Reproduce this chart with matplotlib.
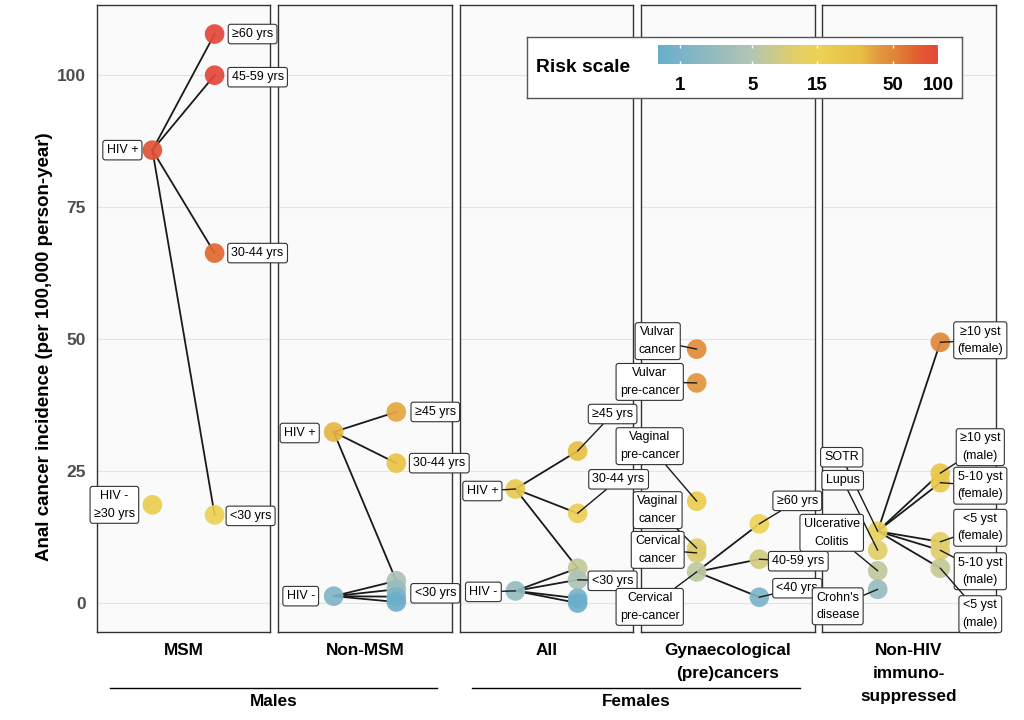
import numpy as np
import matplotlib.pyplot as plt
from matplotlib.colors import LinearSegmentedColormap

plt.rcParams['font.family'] = ['Liberation Sans', 'DejaVu Sans']

# ---- data (incidence per 100,000 person-years) ----
msm_names = ["HIV +", "HIV -\n≥30 yrs", "≥60 yrs", "45-59 yrs", "30-44 yrs", "<30 yrs"]
msm_side = [0, 0, 1, 1, 1, 1]
msm_vals = [85.8, 18.6, 107.8, 100.0, 66.3, 16.7]
msm_links = [(0, 2), (0, 3), (0, 4), (0, 5)]

nonmsm_names = ["HIV +", "≥45 yrs", "30-44 yrs", "HIV -", "", "<30 yrs", "", ""]
nonmsm_side = [0, 1, 1, 0, 1, 1, 1, 1]
nonmsm_vals = [32.4, 36.2, 26.5, 1.3, 4.2, 2.6, 1.2, 0.2]
nonmsm_links = [(0, 1), (0, 2), (0, 4), (3, 4), (3, 5), (3, 6), (3, 7)]

all_names = ["HIV +", "≥45 yrs", "30-44 yrs", "", "HIV -", "<30 yrs", "", ""]
all_side = [0, 1, 1, 1, 0, 1, 1, 1]
all_vals = [21.6, 28.8, 17.0, 6.6, 2.3, 4.4, 0.9, 0.0]
all_links = [(0, 1), (0, 2), (0, 3), (4, 3), (4, 5), (4, 6), (4, 7)]

gyn_names = ["Vulvar\ncancer", "Vulvar\npre-cancer", "Vaginal\npre-cancer", "Vaginal\ncancer",
             "Cervical\ncancer", "Cervical\npre-cancer", "≥60 yrs", "40-59 yrs", "<40 yrs"]
gyn_side = [0, 0, 0, 0, 0, 0, 1, 1, 1]
gyn_vals = [48.1, 41.7, 19.3, 10.4, 9.5, 5.9, 15.0, 8.3, 1.1]
gyn_links = [(5, 6), (5, 7), (5, 8)]

nh_names = ["SOTR", "Lupus", "Ulcerative\nColitis", "Crohn's\ndisease", "≥10 yst\n(female)",
            "≥10 yst\n(male)", "5-10 yst\n(female)", "<5 yst\n(female)", "5-10 yst\n(male)", "<5 yst\n(male)"]
nh_side = [0, 0, 0, 0, 1, 1, 1, 1, 1, 1]
nh_vals = [13.6, 10.0, 6.1, 2.6, 49.4, 24.6, 22.8, 11.6, 10.0, 6.6]
nh_links = [(0, 4), (0, 5), (0, 6), (0, 7), (0, 8), (0, 9)]

panel_titles = ["MSM", "Non-MSM", "All", "Gynaecological\n(pre)cancers", "Non-HIV\nimmuno-\nsuppressed"]

scale_ticks = [1, 5, 15, 50, 100]
scale_vals = [0.43, 1, 5, 10, 15, 30, 40, 50, 70, 100]
scale_cols = ['#6AAFCB', '#7AB3CA', '#B3C6B2', '#E0CE6A', '#ECD356', '#E9BF44',
              '#E39A3E', '#E08838', '#E2632F', '#E4473A']

# label offsets (pixels from the point)
msm_off = [(-30, 0), (-38, 0), (38, 0), (43, -2), (43, 0), (36, -1)]
nonmsm_off = [(-34, -1), (39, 0), (43, 0), (-33, 0), None, (39, -4), None, None]
all_off = [(-33, -2), (35, 37), (41, 34), None, (-32, -1), (35, -1), None, None]
gyn_off = [(-39, 8), (-47, 1), (-47, 55), (-39, 38), (-39, 3), (-47, -35), (38, 23), (39, -2), (38, 9)]
nh_off = [(-36, 74), (-35, 70), (-46, 38), (-40, -17), (40, 2), (40, 26), (40, -3), (40, 14), (40, -21), (40, -46)]

panels = [
    (msm_names, msm_side, msm_vals, msm_links, msm_off, False),
    (nonmsm_names, nonmsm_side, nonmsm_vals, nonmsm_links, nonmsm_off, False),
    (all_names, all_side, all_vals, all_links, all_off, True),
    (gyn_names, gyn_side, gyn_vals, gyn_links, gyn_off, True),
    (nh_names, nh_side, nh_vals, nh_links, nh_off, True),
]

# ---- colour scale: log10(x + 1) ----
lo, hi = np.log10(1.43), np.log10(101)


def tr(v):
    return np.clip((np.log10(np.asarray(v, dtype=float) + 1) - lo) / (hi - lo), 0, 1)


pos = list(tr(scale_vals))
pos[0], pos[-1] = 0.0, 1.0
cmap = LinearSegmentedColormap.from_list("risk", list(zip(pos, scale_cols)))

W, H = 1024, 720
fig = plt.figure(figsize=(W / 100, H / 100), dpi=100)


def fx(px):
    return px / W


def fy(py):
    return 1 - py / H


panel_px = [(97, 270), (278, 452), (460, 633), (641, 815), (822, 996)]
top, bot = 5, 632
ylim = (-5.49, 113.3)
xlim = (-0.89, 1.89)
box = dict(boxstyle="round,pad=0.3,rounding_size=0.2", fc="white", ec="#333333", lw=0.8)

# backgrounds first, so labels of one panel can overlap its neighbours
for k, (l, r) in enumerate(panel_px):
    bg = fig.add_axes([fx(l), fy(bot), fx(r - l), (bot - top) / H], zorder=0)
    bg.set_xlim(*xlim)
    bg.set_ylim(*ylim)
    bg.set_facecolor('#FAFAFA')
    bg.set_xticks([])
    bg.set_yticks([0, 25, 50, 75, 100])
    bg.grid(axis='y', color='#E4E4E4', lw=0.8)
    bg.tick_params(length=0, pad=8, labelsize=12.5, labelcolor='#4D4D4D')
    if k == 0:
        for t in bg.get_yticklabels():
            t.set_fontweight('bold')
    else:
        bg.set_yticklabels([])
    for s in bg.spines.values():
        s.set_color('#333333')
        s.set_linewidth(1)

for k, ((l, r), (names, side, vals, links, offs, leader)) in enumerate(zip(panel_px, panels)):
    ax = fig.add_axes([fx(l), fy(bot), fx(r - l), (bot - top) / H], zorder=1)
    ax.set_xlim(*xlim)
    ax.set_ylim(*ylim)
    ax.axis('off')

    for i, j in links:
        ax.plot([side[i], side[j]], [vals[i], vals[j]], color='#1A1A1A', lw=1.3, zorder=2)
    ax.scatter(side, vals, s=200, c=cmap(tr(vals)), alpha=0.92, lw=0, zorder=3, clip_on=False)

    for name, x, v, off in zip(names, side, vals, offs):
        if not name:
            continue
        arrow = dict(arrowstyle='-', color='#1A1A1A', lw=1, shrinkA=0, shrinkB=0) if leader else None
        ax.annotate(name, xy=(x, v), xytext=off, textcoords='offset pixels',
                    ha='center', va='center', fontsize=9, linespacing=1.6,
                    bbox=box, arrowprops=arrow, annotation_clip=False, zorder=5)

    fig.text(fx((l + r) / 2), fy(643), panel_titles[k], ha='center', va='top',
             fontsize=12.3, fontweight='bold', linespacing=1.67)

fig.text(fx(45), fy(347), "Anal cancer incidence (per 100,000 person-year)", rotation=90,
         ha='center', va='center', fontsize=13.5, fontweight='bold')

# group lines
for x0, x1, lab in [(110, 437, "Males"), (472, 800, "Females")]:
    fig.add_artist(plt.Line2D([fx(x0), fx(x1)], [fy(688), fy(688)], color='black', lw=1))
    fig.text(fx((x0 + x1) / 2), fy(702), lab, ha='center', va='center', fontsize=12.3, fontweight='bold')

# legend
lg = fig.add_axes([fx(527), fy(98), fx(435), 61 / H], zorder=3)
lg.set_xticks([])
lg.set_yticks([])
lg.set_facecolor('white')
for s in lg.spines.values():
    s.set_color('#555555')
    s.set_linewidth(1)
lg.text(0.129, 0.5, "Risk scale", transform=lg.transAxes, ha='center', va='center',
        fontsize=13.9, fontweight='bold')

cax = fig.add_axes([fx(658), fy(64), fx(280), 19 / H], zorder=4)
grad = np.linspace(lo, hi, 256)[None, :]
cax.imshow(grad, cmap=cmap, extent=[lo, hi, 0, 1], aspect='auto', vmin=lo, vmax=hi)
tick_pos = np.log10(np.array(scale_ticks) + 1)
cax.vlines(tick_pos, 0, 0.18, color='white', lw=1)
cax.vlines(tick_pos, 0.82, 1, color='white', lw=1)
cax.set_xlim(lo, hi)
cax.set_yticks([])
cax.set_xticks(tick_pos)
cax.set_xticklabels([str(t) for t in scale_ticks], fontsize=13.5, fontweight='bold')
cax.tick_params(length=0, pad=9)
for s in cax.spines.values():
    s.set_visible(False)

fig.savefig("out.png", dpi=100)
